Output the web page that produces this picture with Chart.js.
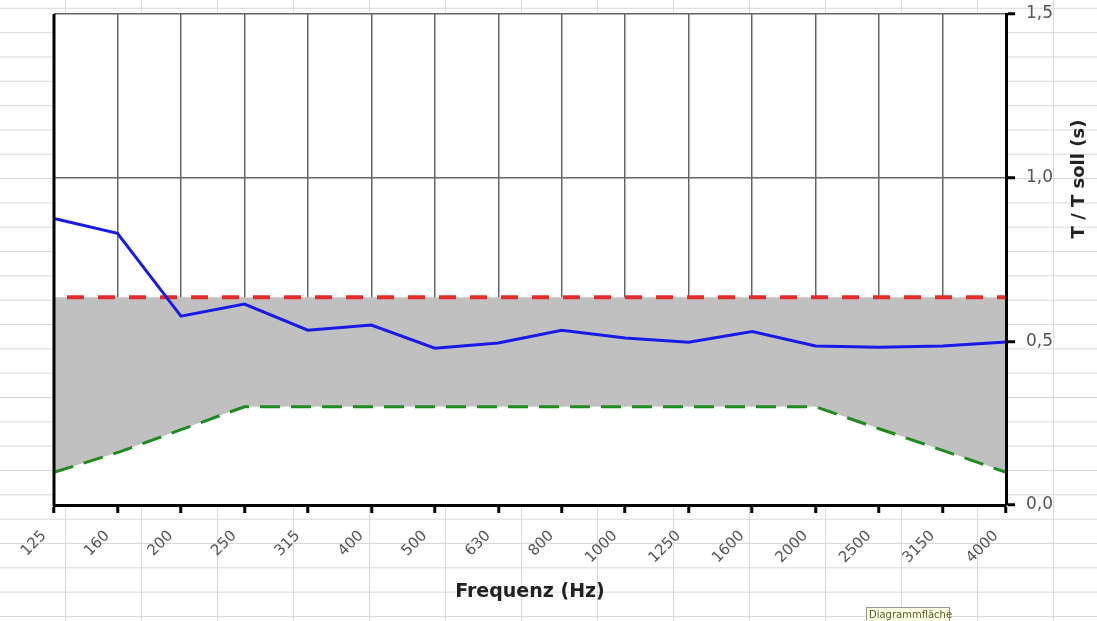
<!DOCTYPE html>
<html>
<head>
<meta charset="utf-8">
<script src="https://cdn.jsdelivr.net/npm/chart.js@4.4.0/dist/chart.umd.min.js"></script>
<style>
    body { margin: 0; background: #fff; }
    #wrap {
        position: relative;
        width: 1097px;
        height: 621px;
        background-image:
            linear-gradient(to right, transparent 65px, #d8d8d8 65px, #d8d8d8 66px, transparent 66px),
            linear-gradient(to bottom, transparent 7.67px, #d8d8d8 7.67px, #d8d8d8 8.67px, transparent 8.67px);
        background-size: 76px 100%, 100% 24.33px;
    }
</style>
</head>
<body>
<div id="wrap"><canvas id="canvasChart"></canvas></div>
<script>
const FREQUENZEN = ['125', '160', '200', '250', '315', '400', '500', '630', '800', '1000', '1250', '1600', '2000', '2500', '3150', '4000'];

// gemessene T / T soll
const MESSWERTE = [0.875, 0.83, 0.577, 0.614, 0.534, 0.55, 0.479, 0.495, 0.534, 0.51, 0.497, 0.53, 0.486, 0.482, 0.486, 0.498];

// Toleranzbereich
const OBERGRENZE = [0.635, 0.635, 0.635, 0.635, 0.635, 0.635, 0.635, 0.635, 0.635, 0.635, 0.635, 0.635, 0.635, 0.635, 0.635, 0.635];
const UNTERGRENZE = [0.1, 0.16, 0.23, 0.3, 0.3, 0.3, 0.3, 0.3, 0.3, 0.3, 0.3, 0.3, 0.3, 0.233, 0.167, 0.1];

const Y_TICKS = ['0,0', '0,5', '1,0', '1,5'];

const excelRahmen = {
    id: 'excelRahmen',
    beforeDraw(chart) {
        const { ctx, chartArea } = chart;
        ctx.save();
        ctx.fillStyle = '#fff';
        ctx.fillRect(chartArea.left, chartArea.top, chartArea.right - chartArea.left, chartArea.bottom - chartArea.top);
        ctx.restore();
    },
    afterDatasetsDraw(chart) {
        const { ctx, chartArea } = chart;
        ctx.save();
        ctx.strokeStyle = '#000';
        ctx.lineWidth = 3;
        ctx.beginPath();
        ctx.moveTo(chartArea.left, chartArea.top);
        ctx.lineTo(chartArea.left, chartArea.bottom + 1);
        ctx.stroke();
        ctx.restore();
    },
    afterDraw(chart) {
        const ctx = chart.ctx;
        ctx.save();
        // Achsentitel rechts, von unten nach oben
        ctx.translate(1079, 179);
        ctx.rotate(-Math.PI / 2);
        ctx.font = 'bold 18px "DejaVu Sans"';
        ctx.fillStyle = '#222';
        ctx.textAlign = 'center';
        ctx.textBaseline = 'middle';
        ctx.fillText('T / T soll (s)', 0, 0);
        ctx.restore();

        // Excel-Tooltip
        ctx.save();
        ctx.fillStyle = '#ffffe6';
        ctx.fillRect(866, 607, 84, 14);
        ctx.strokeStyle = '#999';
        ctx.lineWidth = 1;
        ctx.strokeRect(866.5, 607.5, 83, 14);
        ctx.font = '10px "DejaVu Sans"';
        ctx.fillStyle = '#5a5a28';
        ctx.textBaseline = 'middle';
        ctx.fillText('Diagrammfläche', 869, 615);
        ctx.restore();
    }
};

const grafico = () => {
    try {
        let ctx = document.querySelector('#canvasChart');
        let myChart = new Chart(ctx, {
            type: 'line',
            data: {
                labels: FREQUENZEN,
                datasets: [
                    {
                        label: 'T / T soll',
                        data: MESSWERTE,
                        borderColor: '#1a1ae8',
                        borderWidth: 3,
                        pointRadius: 0,
                        fill: false,
                        order: 0
                    },
                    {
                        label: 'Obergrenze',
                        data: OBERGRENZE,
                        borderColor: '#e42c2c',
                        borderWidth: 4,
                        borderDash: [17, 14],
                        borderDashOffset: 18,
                        pointRadius: 0,
                        fill: '+1',
                        backgroundColor: '#c0c0c0',
                        order: 2
                    },
                    {
                        label: 'Untergrenze',
                        data: UNTERGRENZE,
                        borderColor: '#1f8a1f',
                        borderWidth: 3,
                        borderDash: [20, 11],
                        pointRadius: 0,
                        fill: 'origin',
                        backgroundColor: '#fff',
                        order: 1
                    }
                ]
            },
            options: {
                responsive: true,
                maintainAspectRatio: false,
                animation: false,
                layout: {
                    padding: { left: 54, top: 14, right: 0, bottom: 0 }
                },
                plugins: {
                    legend: { display: false },
                    tooltip: { enabled: false }
                },
                scales: {
                    x: {
                        afterFit: (scale) => { scale.height = 116; },
                        grid: {
                            color: '#666',
                            lineWidth: 1.5,
                            tickColor: '#000',
                            tickWidth: 3,
                            tickLength: 8
                        },
                        border: { color: '#000', width: 3, z: 1 },
                        ticks: {
                            minRotation: 45,
                            maxRotation: 45,
                            padding: 4,
                            color: '#555',
                            font: { family: 'DejaVu Sans', size: 15 },
                            // Leerzeichen schieben die gedrehte Beschriftung etwas nach links
                            callback: (value, index) => FREQUENZEN[index] + '   '
                        },
                        title: {
                            display: true,
                            text: 'Frequenz (Hz)',
                            color: '#222',
                            font: { family: 'DejaVu Sans', size: 19, weight: 'bold' },
                            padding: { top: 0, bottom: 18 }
                        }
                    },
                    y: {
                        position: 'right',
                        min: 0,
                        max: 1.5,
                        afterFit: (scale) => {
                            scale.width = 91;
                            scale.paddingTop = 0;
                            scale.paddingBottom = 0;
                        },
                        grid: {
                            color: '#666',
                            lineWidth: 1.5,
                            tickColor: '#000',
                            tickWidth: 3,
                            tickLength: 9
                        },
                        border: { color: '#000', width: 3, z: 1 },
                        ticks: {
                            stepSize: 0.5,
                            padding: 11,
                            color: '#555',
                            font: { family: 'DejaVu Sans', size: 17 },
                            callback: (value, index) => Y_TICKS[index]
                        }
                    }
                }
            },
            plugins: [excelRahmen]
        });
    }
    catch (exception) {
        document.body.insertAdjacentText('beforeend', 'Fehler beim Zeichnen: ' + exception);
    }
};

grafico();
</script>
</body>
</html>
